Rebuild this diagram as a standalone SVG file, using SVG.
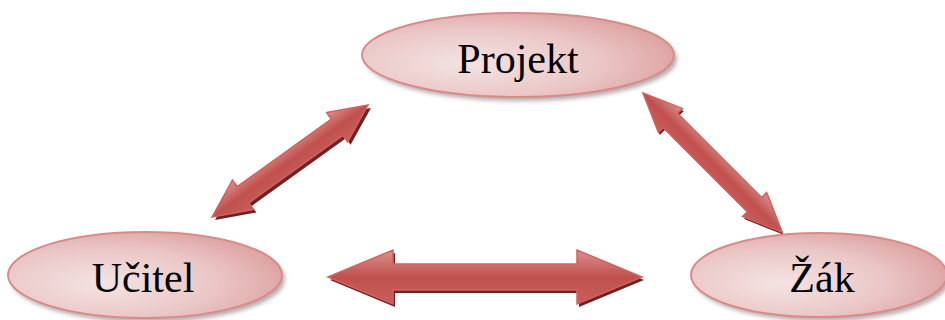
<svg xmlns="http://www.w3.org/2000/svg" width="945" height="320" viewBox="0 0 945 320">
<defs>
<radialGradient id="eg" cx="0.35" cy="0.6" r="0.75">
<stop offset="0" stop-color="#f4e3e3"/>
<stop offset="0.55" stop-color="#ebc6c6"/>
<stop offset="1" stop-color="#da9a99"/>
</radialGradient>
<linearGradient id="ag" x1="0" y1="0" x2="0" y2="1">
<stop offset="0" stop-color="#dc918e"/>
<stop offset="0.5" stop-color="#c0504d"/>
<stop offset="1" stop-color="#c85f5c"/>
</linearGradient>
<filter id="blur" x="-10%" y="-10%" width="120%" height="130%">
<feGaussianBlur stdDeviation="2"/>
</filter>
</defs>
<style>
.sh{fill:#8a7474;opacity:0.6;filter:url(#blur)}
.el{fill:url(#eg);stroke:#d98b89;stroke-width:2}
.lbl{font-family:"Liberation Serif","Times New Roman",serif;font-size:42px;fill:#000;text-anchor:middle}
.ash{fill:#6e2322}
.arr{fill:url(#ag);stroke:#d2625f;stroke-width:1.5;stroke-linejoin:miter}
</style>
<g id="connectors">
<g id="arrow-ucitel-zak">
<path class="ash" transform="translate(487,280)" d="M-157,0 L-92,-27 L-92,-13 L92,-13 L92,-27 L157,0 L92,27 L92,13 L-92,13 L-92,27 Z"/>
<path class="arr" transform="translate(485,277)" d="M-157,0 L-92,-27 L-92,-13 L92,-13 L92,-27 L157,0 L92,27 L92,13 L-92,13 L-92,27 Z"/>
</g>
<g id="arrow-ucitel-projekt">
<path class="ash" transform="translate(293,164) rotate(-35.7)" d="M-96,0 L-58,-18 L-58,-10 L58,-10 L58,-18 L96,0 L58,18 L58,10 L-58,10 L-58,18 Z"/>
<path class="arr" transform="translate(290,161) rotate(-35.7)" d="M-96,0 L-58,-18 L-58,-10 L58,-10 L58,-18 L96,0 L58,18 L58,10 L-58,10 L-58,18 Z"/>
</g>
<g id="arrow-projekt-zak">
<path class="ash" transform="translate(714,165) rotate(45)" d="M-98.5,0 L-59.5,-17 L-59.5,-10 L59.5,-10 L59.5,-17 L98.5,0 L59.5,17 L59.5,10 L-59.5,10 L-59.5,17 Z"/>
<path class="arr" transform="translate(712.5,162.5) rotate(45)" d="M-98.5,0 L-59.5,-17 L-59.5,-10 L59.5,-10 L59.5,-17 L98.5,0 L59.5,17 L59.5,10 L-59.5,10 L-59.5,17 Z"/>
</g>
</g>
<g id="projekt">
<ellipse class="sh" cx="521" cy="59" rx="156" ry="42"/>
<ellipse class="el" cx="518" cy="55" rx="156" ry="42"/>
<text class="lbl" x="518" y="73">Projekt</text>
</g>
<g id="ucitel">
<ellipse class="sh" cx="148" cy="279" rx="137" ry="43"/>
<ellipse class="el" cx="145" cy="275" rx="137" ry="43"/>
<text class="lbl" x="143" y="292">Učitel</text>
</g>
<g id="zak">
<ellipse class="sh" cx="822" cy="279" rx="128" ry="42"/>
<ellipse class="el" cx="819" cy="275" rx="128" ry="42"/>
<text class="lbl" x="822" y="292">Žák</text>
</g>
</svg>
